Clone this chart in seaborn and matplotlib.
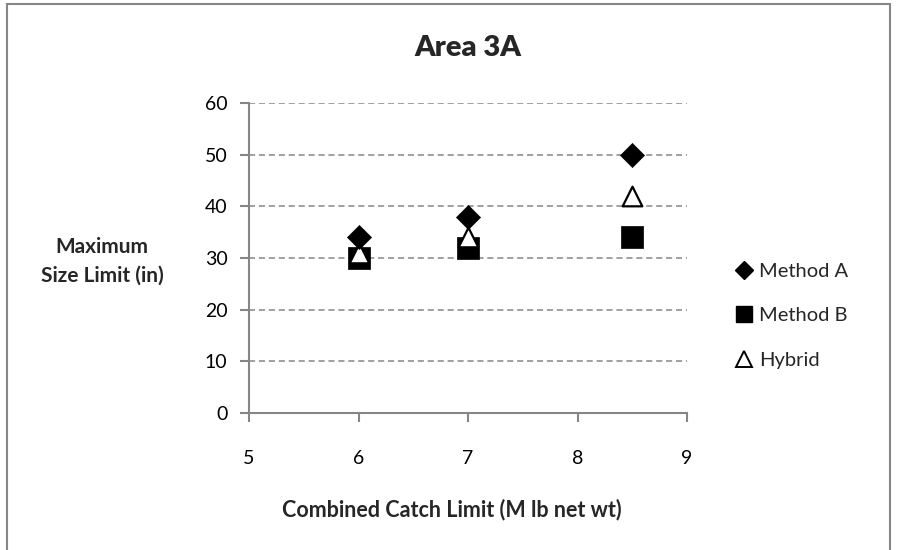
import matplotlib
matplotlib.use("Agg")
import matplotlib.pyplot as plt
import seaborn as sns
import pandas as pd
from matplotlib.patches import Rectangle
from matplotlib.lines import Line2D

catch_limit = [6, 7, 8.5]
method_a = [34, 38, 50]
method_b = [30, 32, 34]
hybrid = [31, 34, 42]
series_names = ["Method A", "Method B", "Hybrid"]
x_ticks = [5, 6, 7, 8, 9]
y_ticks = [0, 10, 20, 30, 40, 50, 60]

sns.set_theme(style="white")
plt.rcParams["font.family"] = ["Lato", "DejaVu Sans"]

df = pd.DataFrame({
    "catch": catch_limit * 3,
    "size": method_a + method_b + hybrid,
    "series": [s for s in series_names for _ in catch_limit],
})

fig = plt.figure(figsize=(8.97, 5.5), dpi=100)
ax = fig.add_axes([249 / 897, 1 - 413 / 550, (687 - 249) / 897, (413 - 103) / 550])

grey = "#868686"
styles = {
    "Method A": dict(marker="D", s=150, color="black", edgecolor="black", linewidth=0.5),
    "Method B": dict(marker="s", s=260, color="black", edgecolor="black", linewidth=0.5),
    "Hybrid": dict(marker="^", s=200, color="white", edgecolor="black", linewidth=1.6),
}
# draw order: squares first, then triangles, then diamonds on top
for name in ["Method B", "Hybrid", "Method A"]:
    sub = df[df["series"] == name]
    sns.scatterplot(data=sub, x="catch", y="size", ax=ax, legend=False, zorder=3,
                    **styles[name])

ax.set_xlim(5, 9)
ax.set_ylim(0, 60)
ax.set_xticks(x_ticks)
ax.set_yticks(y_ticks)
ax.set_xticklabels([str(t) for t in x_ticks], fontsize=14)
ax.set_yticklabels([str(t) for t in y_ticks], fontsize=14)
ax.yaxis.grid(True, color=grey, linestyle=(0, (4, 2.5)), linewidth=1.1)
ax.xaxis.grid(False)
for side in ["top", "right"]:
    ax.spines[side].set_visible(False)
for side in ["left", "bottom"]:
    ax.spines[side].set_color(grey)
    ax.spines[side].set_linewidth(1.5)
ax.tick_params(axis="both", which="major", direction="out", length=6.5, width=1.5,
               color=grey, labelcolor="black", left=True, bottom=True)
ax.tick_params(axis="x", pad=20)
ax.tick_params(axis="y", pad=9)

ax.set_xlabel("")
ax.set_ylabel("")
fig.text(468 / 897, 1 - 48 / 550, "Area 3A", ha="center", va="center",
         fontsize=21, fontweight="heavy")
fig.text(452 / 897, 1 - 510 / 550, "Combined Catch Limit (M lb net wt)",
         ha="center", va="center", fontsize=15.5, fontweight="bold")
fig.text(102 / 897, 1 - 261 / 550, "Maximum\nSize Limit (in)", ha="center",
         va="center", fontsize=15, fontweight="bold", linespacing=1.55)

handles = [
    Line2D([], [], linestyle="none", marker="D", markersize=9, color="black"),
    Line2D([], [], linestyle="none", marker="s", markersize=12, color="black"),
    Line2D([], [], linestyle="none", marker="^", markersize=11,
           markerfacecolor="white", markeredgecolor="black", markeredgewidth=1.4),
]
fig.legend(handles, series_names, loc="upper left",
           bbox_to_anchor=(728 / 897, 1 - 255 / 550), frameon=False,
           fontsize=14.5, handlelength=0.8, handletextpad=0.35, labelspacing=1.35,
           borderaxespad=0)

fig.patches.append(Rectangle((7 / 897, -0.2), (890 - 7) / 897, 1.2 - 4 / 550,
                             transform=fig.transFigure, fill=False,
                             edgecolor=grey, linewidth=1.5))

fig.savefig("out.png", dpi=100)
